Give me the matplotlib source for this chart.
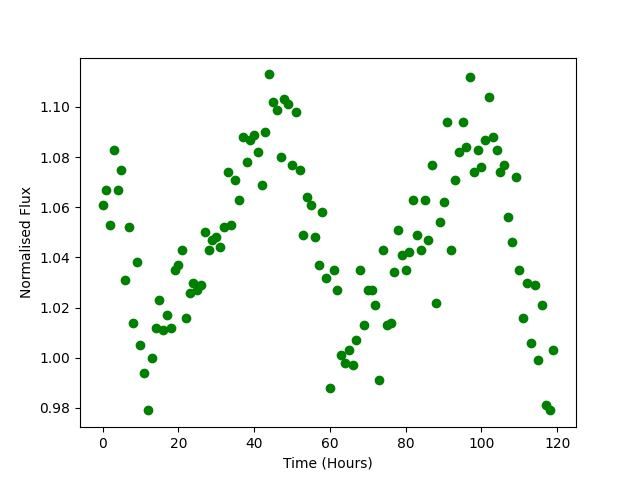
import matplotlib
matplotlib.use("Agg")
import matplotlib.pyplot as plt

# time in hours, one reading per hour
hours = list(range(120))

flux = [
    1.061, 1.067, 1.053, 1.083, 1.067, 1.075, 1.031, 1.052, 1.014, 1.038,
    1.005, 0.994, 0.979, 1.000, 1.012, 1.023, 1.011, 1.017, 1.012, 1.035,
    1.037, 1.043, 1.016, 1.026, 1.030, 1.027, 1.029, 1.050, 1.043, 1.047,
    1.048, 1.044, 1.052, 1.074, 1.053, 1.071, 1.063, 1.088, 1.078, 1.087,
    1.089, 1.082, 1.069, 1.090, 1.113, 1.102, 1.099, 1.080, 1.103, 1.101,
    1.077, 1.098, 1.075, 1.049, 1.064, 1.061, 1.048, 1.037, 1.058, 1.032,
    0.988, 1.035, 1.027, 1.001, 0.998, 1.003, 0.997, 1.007, 1.035, 1.013,
    1.027, 1.027, 1.021, 0.991, 1.043, 1.013, 1.014, 1.034, 1.051, 1.041,
    1.035, 1.042, 1.063, 1.049, 1.043, 1.063, 1.047, 1.077, 1.022, 1.054,
    1.062, 1.094, 1.043, 1.071, 1.082, 1.094, 1.084, 1.112, 1.074, 1.083,
    1.076, 1.087, 1.104, 1.088, 1.083, 1.074, 1.077, 1.056, 1.046, 1.072,
    1.035, 1.016, 1.030, 1.006, 1.029, 0.999, 1.021, 0.981, 0.979, 1.003,
]

fig, ax = plt.subplots(figsize=(6.4, 4.8), dpi=100)
ax.plot(hours, flux, "o", color="green")
ax.set_xlabel("Time (Hours)")
ax.set_ylabel("Normalised Flux")

fig.savefig("out.png")
